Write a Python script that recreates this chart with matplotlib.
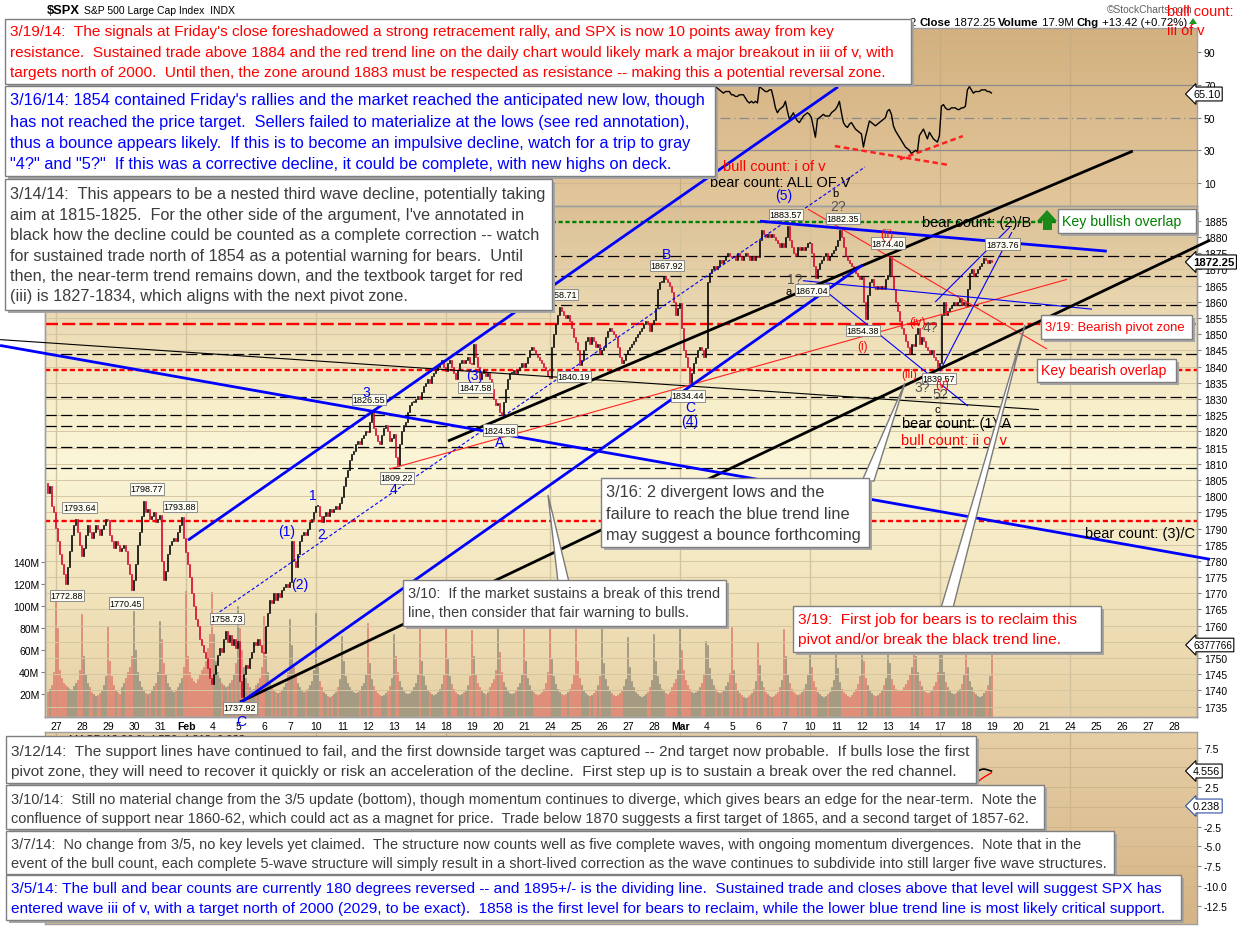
import numpy as np
import matplotlib
matplotlib.use("Agg")
import matplotlib.pyplot as plt
from matplotlib.patches import Rectangle, Polygon
from matplotlib.colors import LinearSegmentedColormap
from matplotlib.transforms import Bbox, TransformedBbox

plt.rcParams['font.family'] = ['Liberation Sans', 'DejaVu Sans']

# ------------------------------------------------------------------ DATA
day_labels = ['27', '28', '29', '30', '31', 'Feb', '4', '5', '6', '7', '10', '11', '12', '13', '14',
              '18', '19', '20', '21', '24', '25', '26', '27', '28', 'Mar', '4', '5', '6', '7',
              '10', '11', '12', '13', '14', '17', '18', '19', '20', '21', '24', '25', '26', '27', '28']
BARS_PER_DAY = 13

# 30-minute closes (last five bars of Jan 24, then 13 bars per session)
jan24_open = 1804.0
jan24_tail = [1801, 1803, 1797, 1795, 1790.3]
wk_jan27 = [
    [1786, 1782, 1779, 1776, 1773, 1778, 1783, 1788, 1791, 1793, 1789, 1785, 1781.6],
    [1784, 1788, 1791, 1789, 1787, 1789, 1791, 1790, 1788, 1790, 1791, 1793, 1792.5],
    [1788, 1786, 1784, 1786, 1785, 1783, 1784, 1785, 1783, 1779, 1776, 1771, 1774.2],
    [1779, 1785, 1789, 1794, 1798.5, 1795, 1796, 1793, 1794, 1795, 1792, 1793, 1794.2],
    [1780, 1774, 1777, 1782, 1785, 1786, 1787, 1786, 1789, 1791, 1793.5, 1787, 1782.6]]
wk_feb03 = [
    [1779, 1775, 1770, 1766, 1762, 1760, 1756, 1754, 1752, 1750, 1747, 1744, 1741.9],
    [1745, 1748, 1751, 1753, 1752, 1756, 1758.5, 1755, 1757, 1754, 1756, 1753, 1755.2],
    [1743, 1738, 1745, 1748, 1747, 1750, 1752, 1755, 1754, 1756, 1754, 1752, 1751.6],
    [1760, 1764, 1768, 1767, 1770, 1768, 1770, 1769, 1771, 1772, 1773, 1772, 1773.4],
    [1786, 1780, 1778, 1782, 1786, 1788, 1789, 1788, 1790, 1792, 1793, 1795, 1797.0]]
wk_feb10 = [
    [1797, 1794, 1792, 1794, 1795, 1794, 1796, 1795, 1796, 1797, 1796, 1798, 1799.8],
    [1803, 1806, 1808, 1811, 1813, 1814, 1816, 1817, 1816, 1818, 1819, 1820, 1819.8],
    [1823, 1826, 1821, 1819, 1817, 1816, 1819, 1821, 1822, 1820, 1817, 1818, 1819.3],
    [1812, 1809.5, 1816, 1820, 1822, 1823, 1826, 1828, 1829, 1829, 1830, 1831, 1830.0],
    [1832, 1834, 1835, 1836, 1835, 1837, 1838, 1839, 1840, 1841, 1842, 1840, 1838.6]]
wk_feb18 = [
    [1841, 1842, 1840, 1838, 1836, 1839, 1841, 1842, 1841, 1842, 1843, 1841, 1840.8],
    [1847, 1843, 1840, 1836, 1838, 1839, 1837, 1838, 1836, 1833, 1830, 1828, 1828.8],
    [1826, 1825, 1829, 1833, 1836, 1838, 1838, 1839, 1838, 1839, 1840, 1841, 1839.8],
    [1841, 1843, 1845, 1846, 1845, 1844, 1843, 1842, 1841, 1840, 1839, 1837, 1836.3]]
wk_feb24 = [
    [1846, 1850, 1853, 1856, 1858.5, 1857, 1856, 1855, 1856, 1854, 1852, 1849, 1847.6],
    [1845, 1840.5, 1842, 1845, 1848, 1849, 1847, 1849, 1848, 1846, 1847, 1844, 1845.1],
    [1846, 1849, 1851, 1852, 1851, 1850, 1849, 1846, 1843, 1841, 1842, 1844, 1845.2],
    [1846, 1847, 1848, 1849, 1850, 1851, 1852, 1853, 1854, 1853, 1851, 1853, 1854.3],
    [1858, 1864, 1866, 1866, 1867.8, 1867, 1866, 1865, 1863, 1860, 1856, 1858, 1859.5]]
wk_mar03 = [
    [1852, 1845, 1843, 1840, 1834.8, 1838, 1841, 1843, 1845, 1846, 1845, 1843, 1845.7],
    [1866, 1869, 1870, 1871, 1870, 1871, 1873, 1872, 1873, 1874, 1875, 1874, 1873.9],
    [1874, 1873, 1875, 1874, 1873, 1874, 1875, 1874, 1873, 1874, 1873, 1874, 1873.8],
    [1879, 1882, 1881, 1880, 1881, 1880, 1881, 1880, 1879, 1878, 1877, 1878, 1877.0],
    [1880, 1883.4, 1879, 1877, 1875, 1874, 1877, 1876, 1877, 1876, 1877, 1878, 1878.0]]
wk_mar10 = [
    [1875, 1871, 1867.2, 1870, 1872, 1873, 1874, 1875, 1873, 1874, 1875, 1876, 1877.2],
    [1879, 1882.2, 1880, 1877, 1874, 1873, 1872, 1871, 1870, 1869, 1868, 1867, 1867.6],
    [1860, 1854.6, 1862, 1866, 1867, 1865, 1864, 1865, 1864, 1865, 1864, 1867, 1868.2],
    [1874.2, 1868, 1864, 1860, 1857, 1854, 1852, 1850, 1848, 1846, 1844, 1847, 1846.3],
    [1850, 1852, 1847, 1849, 1848, 1846, 1845, 1844, 1845, 1843, 1842, 1839.8, 1841.1]]
wk_mar17 = [
    [1856, 1860, 1856, 1857, 1858, 1859, 1860, 1859, 1860, 1861, 1859, 1860, 1858.8],
    [1864, 1869, 1870, 1868, 1869, 1870, 1871, 1872, 1873.6, 1873, 1872, 1873, 1872.25]]

# 30-minute volume, millions
vol_jan24_tail = [22, 25, 28, 40, 106]
vol_jan27 = [
    [80, 42, 35, 30, 28, 26, 25, 24, 27, 30, 33, 42, 93],
    [55, 38, 30, 26, 22, 20, 18, 19, 21, 24, 28, 36, 82],
    [50, 36, 28, 24, 22, 20, 26, 30, 35, 40, 45, 55, 95],
    [60, 40, 32, 26, 23, 21, 20, 21, 24, 27, 30, 40, 86],
    [70, 48, 38, 30, 26, 24, 22, 24, 26, 30, 35, 45, 114]]
vol_feb03 = [
    [55, 40, 35, 32, 30, 34, 38, 42, 45, 50, 62, 75, 113],
    [75, 50, 40, 35, 30, 28, 26, 27, 30, 33, 38, 48, 100],
    [80, 60, 45, 35, 30, 26, 24, 25, 28, 30, 35, 45, 91],
    [55, 40, 32, 27, 24, 22, 21, 22, 24, 26, 30, 40, 88],
    [65, 45, 36, 30, 26, 24, 22, 23, 25, 28, 32, 42, 94]]
vol_feb10 = [
    [45, 32, 26, 22, 20, 18, 17, 18, 20, 22, 26, 34, 73],
    [50, 36, 30, 26, 24, 22, 21, 22, 24, 27, 30, 38, 85],
    [48, 34, 27, 23, 21, 19, 18, 19, 21, 23, 27, 35, 75],
    [55, 40, 32, 26, 23, 21, 20, 21, 23, 26, 30, 38, 80],
    [50, 36, 28, 24, 22, 20, 19, 20, 22, 25, 29, 37, 85]]
vol_feb18 = [
    [52, 36, 29, 25, 22, 20, 19, 20, 22, 24, 28, 36, 78],
    [55, 38, 30, 26, 23, 21, 20, 22, 26, 30, 34, 42, 88],
    [58, 40, 31, 26, 23, 21, 20, 21, 23, 26, 30, 38, 80],
    [50, 35, 28, 24, 22, 20, 19, 20, 22, 25, 30, 40, 95]]
vol_feb24 = [
    [52, 36, 29, 25, 22, 20, 19, 20, 22, 25, 29, 37, 84],
    [50, 35, 28, 24, 21, 19, 18, 19, 21, 24, 28, 36, 84],
    [48, 34, 27, 23, 21, 19, 18, 19, 21, 23, 27, 34, 72],
    [45, 32, 26, 22, 20, 18, 17, 18, 20, 22, 26, 33, 75],
    [50, 36, 29, 25, 23, 21, 20, 22, 26, 30, 34, 42, 84]]
vol_mar03 = [
    [60, 42, 33, 28, 25, 22, 21, 22, 24, 26, 30, 38, 68],
    [65, 44, 34, 28, 25, 22, 21, 22, 24, 27, 31, 39, 81],
    [42, 30, 24, 21, 19, 17, 16, 17, 19, 21, 25, 32, 67],
    [46, 32, 26, 22, 20, 18, 17, 18, 20, 22, 26, 33, 79],
    [55, 38, 30, 25, 22, 20, 19, 20, 22, 25, 29, 37, 85]]
vol_mar10 = [
    [45, 32, 26, 22, 20, 18, 17, 18, 20, 22, 26, 33, 70],
    [44, 31, 25, 22, 20, 18, 17, 19, 22, 25, 29, 36, 65],
    [50, 35, 28, 24, 21, 19, 18, 19, 21, 24, 28, 35, 75],
    [48, 34, 28, 25, 24, 23, 24, 26, 29, 33, 38, 45, 90],
    [55, 40, 32, 27, 24, 22, 21, 22, 24, 27, 31, 40, 85]]
vol_mar17 = [
    [58, 40, 31, 26, 23, 21, 20, 21, 23, 25, 29, 37, 80],
    [45, 32, 26, 22, 20, 18, 17, 18, 21, 24, 28, 36, 70]]

# RSI(14) on 30-minute bars, sessions Mar 4 .. Mar 18 (first session index 25)
rsi_first_day = 25
rsi_days = [
    [70, 71, 70, 69, 69, 68, 67, 66, 65, 66, 66, 66, 64],
    [64, 63, 63, 64, 64, 64, 62, 60, 59, 60, 59, 60, 59],
    [69, 68, 67, 66, 66, 67, 67, 62, 56, 53, 55, 56, 57],
    [60, 54, 49, 51, 53, 50, 48, 47, 49, 51, 52, 53, 52],
    [50, 44, 38, 49, 50, 51, 52, 51, 51, 51, 53, 54, 55],
    [57, 60, 53, 47, 45, 44, 46, 47, 45, 43, 42, 41, 40],
    [32, 38, 43, 48, 47, 46, 45, 46, 47, 48, 49, 50, 54],
    [55, 52, 45, 42, 40, 38, 36, 34, 32, 31, 30, 28, 29],
    [30, 29, 39, 41, 43, 40, 37, 41, 39, 37, 36, 35, 39],
    [57, 58, 56, 55, 55, 56, 56, 56, 55, 55, 56, 56, 57],
    [67, 69, 67, 65, 66, 66, 66, 67, 67, 67, 66, 66, 65.1]]

# MACD(12,26,9) sessions Mar 17 .. Mar 18 (first session index 34)
macd_first_day = 34
macd_days = [[1.0, 1.3, 1.5, 1.7, 1.8, 2.0, 2.1, 2.2, 2.3, 2.4, 2.5, 2.6, 2.6],
             [3.0, 3.6, 4.0, 4.2, 4.35, 4.5, 4.65, 4.75, 4.8, 4.78, 4.7, 4.62, 4.556]]
signal_days = [[-0.6, -0.4, -0.2, 0.0, 0.2, 0.4, 0.6, 0.8, 1.0, 1.2, 1.4, 1.6, 1.8],
               [2.0, 2.3, 2.55, 2.75, 2.95, 3.15, 3.35, 3.55, 3.72, 3.88, 4.03, 4.18, 4.318]]

# horizontal annotation levels
black_dash_levels = [1874, 1868, 1859, 1844, 1830.5, 1825, 1821.5, 1815.3, 1808.6]
pivot_level = 1853
red_dotted_levels = [1839, 1792.3]
green_level = 1884.5

# trend lines, (session, price) endpoints
blue_thick = [((5.06, 1786.4), (30.06, 1926.3)), ((7.06, 1736.1), (31.0, 1871.3)),
              ((-2.17, 1846.5), (44.37, 1780.5)), ((27.06, 1884.85), (40.4, 1875.6))]
blue_dashed = [((6.1, 1763.3), (31.1, 1901.6))]
black_thick = [((15.06, 1817.0), (41.4, 1906.5)), ((7.06, 1736.45), (44.37, 1879.0))]
black_thin = [((-2.17, 1848.3), (37.79, 1826.7))]
red_thin = [((12.83, 1808.4), (38.87, 1866.9)), ((28.9, 1888.6), (38.1, 1845.4))]
blue_thin = [((28.71, 1866.5), (39.83, 1857.7)), ((29.63, 1863.0), (35.06, 1827.8)),
             ((33.8, 1859.9), (36.67, 1883.0)), ((33.98, 1838.6), (36.75, 1881.5))]
rsi_red_dashed = [((29.94, 32.6), (34.37, 20.9)), ((32.44, 24.5), (34.86, 38.7))]

# price value labels (text, session, price)
price_labels = [('1793.64', 0.90, 1796.6), ('1772.88', 0.40, 1769.2), ('1798.77', 3.48, 1802.2),
                ('1770.45', 2.67, 1767.0), ('1793.88', 4.75, 1796.9), ('1758.73', 6.56, 1762.1),
                ('1737.92', 7.06, 1734.6), ('1826.55', 12.02, 1829.7), ('1809.22', 13.10, 1805.6),
                ('1824.58', 17.06, 1820.4), ('1847.58', 16.13, 1833.4), ('1858.71', 19.40, 1862.1),
                ('1840.19', 19.90, 1836.8), ('1867.92', 23.48, 1871.3), ('1834.44', 24.29, 1830.9),
                ('1883.57', 28.06, 1887.0), ('1882.35', 30.25, 1885.8), ('1867.04', 29.06, 1863.6),
                ('1874.40', 31.98, 1878.1), ('1854.38', 31.02, 1851.0), ('1839.57', 33.94, 1836.4),
                ('1873.76', 36.40, 1877.8)]
wave_blue = [('1', 9.87, 1800.3), ('2', 10.17, 1788.3), ('(1)', 8.87, 1789.2), ('(2)', 9.37, 1772.9),
             ('3', 11.9, 1832.1), ('4', 12.98, 1802.2), ('(3)', 16.1, 1837.4), ('A', 17.06, 1816.7),
             ('B', 23.48, 1874.8), ('C', 24.37, 1827.5), ('(4)', 24.37, 1823.2), ('(5)', 27.98, 1892.9),
             ('C', 7.1, 1730.6)]
wave_black = [('b', 29.98, 1893.6, 'k', 8), ('2?', 30.06, 1889.6, '#555555', 10),
              ('1?', 28.4, 1867.0, '#555555', 10), ('a', 28.17, 1863.3, 'k', 8),
              ('4?', 33.6, 1852.2, '#555555', 10), ('3?', 33.29, 1833.7, '#555555', 10),
              ('5?', 33.98, 1831.5, '#555555', 10), ('c', 33.87, 1826.9, 'k', 8)]
wave_red = [('(ii)', 31.94, 1880.8), ('(i)', 31.0, 1846.3), ('(iii)', 32.79, 1837.7),
            ('(iv)', 33.1, 1853.7), ('(v)', 34.06, 1834.6)]
count_texts = [('bull count: i of v', 25.63, 1902.0, 'red', 'left'),
               ('bear count: ALL OF V', 25.13, 1896.9, 'black', 'left'),
               ('bear count: (2)/B', 33.3, 1884.5, 'black', 'left'),
               ('bear count: (1)/A', 32.52, 1822.5, 'black', 'left'),
               ('bull count: ii of v', 32.48, 1817.4, 'red', 'left'),
               ('bear count: (3)/C', 43.8, 1788.5, 'black', 'right')]

# ------------------------------------------------------------------ FIGURE
W, H = 1240, 928
fig = plt.figure(figsize=(W / 100, H / 100), dpi=100)
fig.patch.set_facecolor('white')


def rect(top, bottom, left=45, right=1197):
    return [left / W, (H - bottom) / H, (right - left) / W, (bottom - top) / H]


XMIN, XMAX = -0.442, 43.87
SPINE = '#a0a0a0'


def gradient(axis, stops):
    cm = LinearSegmentedColormap.from_list('g', stops)
    g = np.linspace(0, 1, 256).reshape(-1, 1)
    axis.imshow(g, aspect='auto', cmap=cm, origin='lower', extent=[0, 1, 0, 1],
                transform=axis.transAxes, zorder=-10, interpolation='bilinear')


def style_spines(axis):
    for s in axis.spines.values():
        s.set_color(SPINE)
        s.set_linewidth(1.0)


week_starts = [0, 5, 10, 15, 19, 24, 29, 34, 39]

# ---------- RSI panel
ax_rsi = fig.add_axes(rect(29, 207))
gradient(ax_rsi, [(0, '#e2c79c'), (1, '#d3b07f')])
ax_rsi.set_xlim(XMIN, XMAX)
ax_rsi.set_ylim(-4.1, 104.9)
for lv in (10, 90):
    ax_rsi.axhline(lv, color='#d0b68c', lw=0.8, zorder=0)
for lv in (30, 70):
    ax_rsi.axhline(lv, color='#8a8a8a', lw=0.9, zorder=1)
ax_rsi.axhline(50, color='#8a8a8a', lw=0.9, ls=(0, (8, 3, 1, 3)), zorder=1)
for ws in week_starts:
    ax_rsi.axvline(ws, color='#c9ad82', lw=0.9, zorder=0)
rx, ry = [], []
for i, dd in enumerate(rsi_days):
    for k, v in enumerate(dd):
        rx.append(rsi_first_day + i + (k + 0.5) / BARS_PER_DAY)
        ry.append(v)
ax_rsi.plot(rx, ry, color='black', lw=1.0, zorder=3)
for (p0, p1) in rsi_red_dashed:
    ax_rsi.plot([p0[0], p1[0]], [p0[1], p1[1]], color='#ff2020', lw=1.8, ls=(0, (2.2, 1.4)), zorder=4)
ax_rsi.yaxis.tick_right()
ax_rsi.set_yticks([10, 30, 50, 70, 90])
ax_rsi.tick_params(axis='y', labelsize=7.5, length=3, color='#808080', pad=2)
ax_rsi.set_xticks([])
style_spines(ax_rsi)

# ---------- volume (behind price)
ax_vol = fig.add_axes(rect(207, 718))
gradient(ax_vol, [(0, '#e6cfa4'), (0.25, '#f2e4bc'), (0.5, '#fbf6d8'), (0.62, '#f7eeca'), (1, '#dcc095')])
ax_vol.set_xlim(XMIN, XMAX)
ax_vol.set_ylim(-0.9, 463.6)
for ws in week_starts:
    ax_vol.axvline(ws, color='#d2c3a0', lw=1.0, zorder=0)

closes = list(jan24_tail)
vols = list(vol_jan24_tail)
xs = [-1 + (k + 0.5) / BARS_PER_DAY for k in range(BARS_PER_DAY - len(jan24_tail), BARS_PER_DAY)]
for wk, vw in zip([wk_jan27, wk_feb03, wk_feb10, wk_feb18, wk_feb24, wk_mar03, wk_mar10, wk_mar17],
                  [vol_jan27, vol_feb03, vol_feb10, vol_feb18, vol_feb24, vol_mar03, vol_mar10, vol_mar17]):
    for dd, vd in zip(wk, vw):
        closes.extend(dd)
        vols.extend(vd)
n_days = (len(closes) - len(jan24_tail)) // BARS_PER_DAY
for d in range(n_days):
    for k in range(BARS_PER_DAY):
        xs.append(d + (k + 0.5) / BARS_PER_DAY)
closes = np.array(closes, float)
opens = np.concatenate([[jan24_open], closes[:-1]])
up = closes >= opens
xs = np.array(xs)

ax_vol.bar(xs, vols, width=0.85 / BARS_PER_DAY,
           color=np.where(up, '#aaa48f', '#eea08f'),
           edgecolor=np.where(up, '#8a8470', '#d87060'), linewidth=0.4, zorder=2)
ax_vol.yaxis.tick_left()
ax_vol.set_yticks([20, 40, 60, 80, 100, 120, 140])
ax_vol.set_yticklabels(['20M', '40M', '60M', '80M', '100M', '120M', '140M'])
ax_vol.tick_params(axis='y', labelsize=7.5, length=3, color='#808080', pad=1)
ax_vol.set_xticks([])
style_spines(ax_vol)

# ---------- price panel
ax = fig.add_axes(rect(207, 718))
ax.set_facecolor('none')
ax.set_xlim(XMIN, XMAX)
ax.set_ylim(1731.82, 1889.54)
for lv in np.arange(1735, 1890, 5):
    ax.axhline(lv, color='#d6c7a4', lw=0.7, zorder=0)
for lv in black_dash_levels:
    ax.axhline(lv, color='black', lw=0.9, ls=(0, (9, 3.5)), zorder=1)
ax.axhline(pivot_level, color='#ff0000', lw=1.7, ls=(0, (5.5, 1.8)), zorder=1.2)
for lv in red_dotted_levels:
    ax.axhline(lv, color='#ff0000', lw=1.7, ls=(0, (2.2, 1.3)), zorder=1.2)
ax.axhline(green_level, color='#008000', lw=1.7, ls=(0, (1.8, 1.1)), zorder=1.2)

bottoms = np.minimum(opens, closes)
heights = np.maximum(np.abs(closes - opens), 0.35)
ccol = np.where(up, '#000000', '#d8002a')
ax.bar(xs, heights, bottom=bottoms, width=0.9 / BARS_PER_DAY,
       color=ccol, edgecolor=ccol, linewidth=0.45, zorder=3)


def seg(axis, lines, color, lw, ls='-', z=4):
    for (p0, p1) in lines:
        axis.plot([p0[0], p1[0]], [p0[1], p1[1]], color=color, lw=lw, ls=ls,
                  clip_on=False, zorder=z, solid_capstyle='butt')


seg(ax, black_thin, 'black', 0.8)
seg(ax, red_thin, '#ff2222', 0.8)
seg(ax, blue_thin, '#0000ff', 0.8)
seg(ax, blue_dashed, '#0000ff', 0.8, ls=(0, (3, 2)))
seg(ax, black_thick, 'black', 2.0)
seg(ax, blue_thick, '#0000ff', 2.0)

for t, d, p in price_labels:
    ax.text(d, p, t, ha='center', va='center', fontsize=6.5, color='black', clip_on=False, zorder=6,
            bbox=dict(boxstyle='square,pad=0.12', fc='#fdfcf2', ec='#8c8c8c', lw=0.7))
for t, d, p in wave_blue:
    ax.text(d, p, t, ha='center', va='center', fontsize=10, color='#0000ff', clip_on=False, zorder=6)
for t, d, p, c, fs in wave_black:
    ax.text(d, p, t, ha='center', va='center', fontsize=fs, color=c, clip_on=False, zorder=6)
for t, d, p in wave_red:
    ax.text(d, p, t, ha='center', va='center', fontsize=8.5, color='#ff0000', clip_on=False, zorder=6)
for t, d, p, c, ha in count_texts:
    ax.text(d, p, t, ha=ha, va='center', fontsize=10.5, color=c, clip_on=False, zorder=6)

ax.yaxis.tick_right()
pt = np.arange(1735, 1890, 5)
ax.set_yticks(pt)
ax.set_yticklabels(['' if v == 1755 else str(v) for v in pt])
ax.tick_params(axis='y', labelsize=7.5, length=3, color='#808080', pad=2)
ax.set_xticks(range(len(day_labels)))
ax.set_xticklabels(day_labels)
ax.tick_params(axis='x', labelsize=7.5, length=0, pad=3)
for lab in ax.get_xticklabels():
    if lab.get_text() in ('Feb', 'Mar'):
        lab.set_fontweight('bold')
style_spines(ax)

# ---------- MACD panel
ax_m = fig.add_axes(rect(733, 925))
gradient(ax_m, [(0, '#d5b486'), (1, '#e6cea5')])
ax_m.set_xlim(XMIN, XMAX)
ax_m.set_ylim(-14.82, 9.49)
for lv in np.arange(-12.5, 9, 2.5):
    ax_m.axhline(lv, color='#cfb58b', lw=0.7, zorder=0)
for ws in week_starts:
    ax_m.axvline(ws, color='#cfb58b', lw=0.9, zorder=0)
mx, my, sy = [], [], []
for i, (dm, ds) in enumerate(zip(macd_days, signal_days)):
    for k in range(BARS_PER_DAY):
        mx.append(macd_first_day + i + (k + 0.5) / BARS_PER_DAY)
        my.append(dm[k])
        sy.append(ds[k])
ax_m.plot(mx, sy, color='#ff0000', lw=1.0, zorder=3)
ax_m.plot(mx, my, color='black', lw=1.2, zorder=3)
ax_m.text(0.5, 8.6, 'MACD(12,26,9) 4.556, 4.318, 0.238', fontsize=8, va='center', zorder=2)
ax_m.yaxis.tick_right()
mt = np.arange(-12.5, 8, 2.5)
ax_m.set_yticks(mt)
ax_m.set_yticklabels(['' if abs(v - 5.0) < 1e-9 or abs(v) < 1e-9 else '%.1f' % v for v in mt])
ax_m.tick_params(axis='y', labelsize=7.5, length=3, color='#808080', pad=2)
ax_m.set_xticks([])
style_spines(ax_m)

# ------------------------------------------------------------------ OVERLAY (pixel space)
ov = fig.add_axes([0, 0, 1, 1])
ov.set_zorder(10)
ov.set_xlim(0, W)
ov.set_ylim(H, 0)
ov.axis('off')
ov.patch.set_alpha(0)
renderer = fig.canvas.get_renderer()


def twidth(s, fs, weight='normal'):
    t = ov.text(0, 0, s, fontsize=fs, fontweight=weight)
    w = t.get_window_extent(renderer=renderer).width
    t.remove()
    return w


def fit(s, target, weight='normal'):
    return 10.0 * target / twidth(s, 10.0, weight)


# header
ov.text(47, 11, '\\$SPX', fontsize=fit('$SPX', 33, 'bold'), fontweight='bold', va='center', zorder=1)
ov.text(84, 11, 'S&P 500 Large Cap Index  INDX', fontsize=fit('S&P 500 Large Cap Index  INDX', 151),
        va='center', zorder=1)
segs = [('Low 1858.92 ', 'normal'), ('Close', 'bold'), (' 1872.25 ', 'normal'), ('Volume', 'bold'),
        (' 17.9M ', 'normal'), ('Chg', 'bold'), (' +13.42 (+0.72%)', 'normal')]
base = sum(twidth(s, 10, w) for s, w in segs[1:])
hfs = 10 * 266 / base
widths = [twidth(s, hfs, w) for s, w in segs]
xcur = 1187 - sum(widths)
clipbox = TransformedBbox(Bbox([[911, 0], [W, 40]]), ov.transData)
for (s, w), wd in zip(segs, widths):
    t = ov.text(xcur, 23, s, fontsize=hfs, fontweight=w, va='center', zorder=1)
    t.set_clip_box(clipbox)
    t.set_clip_on(True)
    xcur += wd
ov.add_patch(Polygon([[1189, 25], [1197, 25], [1193, 19]], closed=True, fc='#1a9a1a', ec='none', zorder=1))
ov.text(1107, 10, '\u00a9StockCharts.com', fontsize=fit('\u00a9StockCharts.com', 86), color='#606060',
        va='center', zorder=1)
ov.text(1167, 12, 'bull count:', fontsize=fit('bull count:', 66), color='#ff0000', va='center', zorder=8)
ov.text(1167, 31, 'iii of v', fontsize=fit('bull count:', 66), color='#ff0000', va='center', zorder=8)


def pointer(base0, base1, tip):
    ov.add_patch(Polygon([base0, tip, base1], closed=True, fc='white', ec='#7a7a7a', lw=1.0, zorder=2))


pointer((862, 482), (874, 482), (905, 384))
pointer((941, 609), (953, 609), (1025, 326))
pointer((558, 583), (569, 583), (548, 496))

GRAY = '#3c3c3c'
RED = '#ff0000'
BLUE = '#0000ff'

boxes = [
    (5, 20, 911, 85, RED, [
        "3/19/14:  The signals at Friday's close foreshadowed a strong retracement rally, and SPX is now 10 points away from key",
        "resistance.  Sustained trade above 1884 and the red trend line on the daily chart would likely mark a major breakout in iii of v, with",
        "targets north of 2000.  Until then, the zone around 1883 must be respected as resistance -- making this a potential reversal zone."],
     [32.3, 52.7, 72.7], 2, 880),
    (5, 87, 715, 177, BLUE, [
        "3/16/14: 1854 contained Friday's rallies and the market reached the anticipated new low, though",
        "has not reached the price target.  Sellers failed to materialize at the lows (see red annotation),",
        "thus a bounce appears likely.  If this is to become an impulsive decline, watch for a trip to gray",
        "\"4?\" and \"5?\"  If this was a corrective decline, it could be complete, with new highs on deck."],
     [101, 122.7, 143.7, 164.7], 0, 697),
    (5, 180, 552, 311, GRAY, [
        "3/14/14:  This appears to be a nested third wave decline, potentially taking",
        "aim at 1815-1825.  For the other side of the argument, I've annotated in",
        "black how the decline could be counted as a complete correction -- watch",
        "for sustained trade north of 1854 as a potential warning for bears.  Until",
        "then, the near-term trend remains down, and the textbook target for red",
        "(iii) is 1827-1834, which aligns with the next pivot zone."],
     [195, 215.3, 235.6, 256, 276.4, 296.7], 0, 536),
    (601, 479, 869, 548, GRAY, [
        "3/16: 2 divergent lows and the",
        "failure to reach the blue trend line",
        "may suggest a bounce forthcoming"],
     [493, 514.5, 536], 2, 256),
    (403, 581, 726, 627, GRAY, [
        "3/10:  If the market sustains a break of this trend",
        "line, then consider that fair warning to bulls."],
     [594.5, 613.5], 0, 311),
    (793, 607, 1101, 653, RED, [
        "3/19:  First job for bears is to reclaim this",
        "pivot and/or break the black trend line."],
     [620, 640], 0, 279),
    (6, 737, 976, 784, GRAY, [
        "3/12/14:  The support lines have continued to fail, and the first downside target was captured -- 2nd target now probable.  If bulls lose the first",
        "pivot zone, they will need to recover it quickly or risk an acceleration of the decline.  First step up is to sustain a break over the red channel."],
     [751.7, 771.7], 0, 958),
    (6, 786, 1044, 830, GRAY, [
        "3/10/14:  Still no material change from the 3/5 update (bottom), though momentum continues to diverge, which gives bears an edge for the near-term.  Note the",
        "confluence of support near 1860-62, which could act as a magnet for price.  Trade below 1870 suggests a first target of 1865, and a second target of 1857-62."],
     [799.7, 818.7], 0, 1023),
    (6, 832, 1114, 875, GRAY, [
        "3/7/14:  No change from 3/5, no key levels yet claimed.  The structure now counts well as five complete waves, with ongoing momentum divergences.  Note that in the",
        "event of the bull count, each complete 5-wave structure will simply result in a short-lived correction as the wave continues to subdivide into still larger five wave structures."],
     [845, 864], 1, 1094),
    (6, 876, 1181, 921, BLUE, [
        "3/5/14: The bull and bear counts are currently 180 degrees reversed -- and 1895+/- is the dividing line.  Sustained trade and closes above that level will suggest SPX has",
        "entered wave iii of v, with a target north of 2000 (2029, to be exact).  1858 is the first level for bears to reclaim, while the lower blue trend line is most likely critical support."],
     [888.7, 908.7], 1, 1157),
    (1058, 210, 1196, 234, '#008000', ["Key bullish overlap"], [222], 0, 119),
    (1041, 316, 1192, 340, RED, ["3/19: Bearish pivot zone"], [328], 0, 139),
    (1037, 360, 1176, 383, RED, ["Key bearish overlap"], [371.5], 0, 125),
]
for x0, y0, x1, y1, col, lines, centers, fi, target in boxes:
    fs = fit(lines[fi], target)
    ov.add_patch(Rectangle((x0 + 3, y0 + 3), x1 - x0, y1 - y0, fc='#a6a6a6', ec='none', zorder=3))
    ov.add_patch(Rectangle((x0, y0), x1 - x0, y1 - y0, fc='white', ec='#7f7f7f', lw=1.0, zorder=3.1))
    for ln, cy in zip(lines, centers):
        ov.text(x0 + 4 if x1 - x0 < 200 else x0 + 5, cy, ln, color=col, fontsize=fs,
                va='center', ha='left', zorder=3.2)

# green arrow next to the bullish overlap
ov.add_patch(Polygon([[1037, 222], [1057, 222], [1047, 211]], closed=True, fc='#1a8a1a', ec='none', zorder=2.5))
ov.add_patch(Rectangle((1042.5, 222), 9, 9, fc='#1a8a1a', ec='none', zorder=2.5))


# last-value markers on the right axis
def marker(y, s, ec='black', weight='normal', fs=7.8):
    ov.text(1193, y, s, fontsize=fs, fontweight=weight, va='center', ha='left', zorder=9,
            bbox=dict(boxstyle='larrow,pad=0.18', fc='white', ec=ec, lw=0.8))


marker(263, '1872.25', weight='bold', fs=8.2)
marker(95, '65.10')
marker(646, '6377766', fs=7.2)
marker(772, '4.556')
marker(807, '0.238', ec='#3050a0')

fig.savefig('out.png', dpi=100, facecolor='white')
